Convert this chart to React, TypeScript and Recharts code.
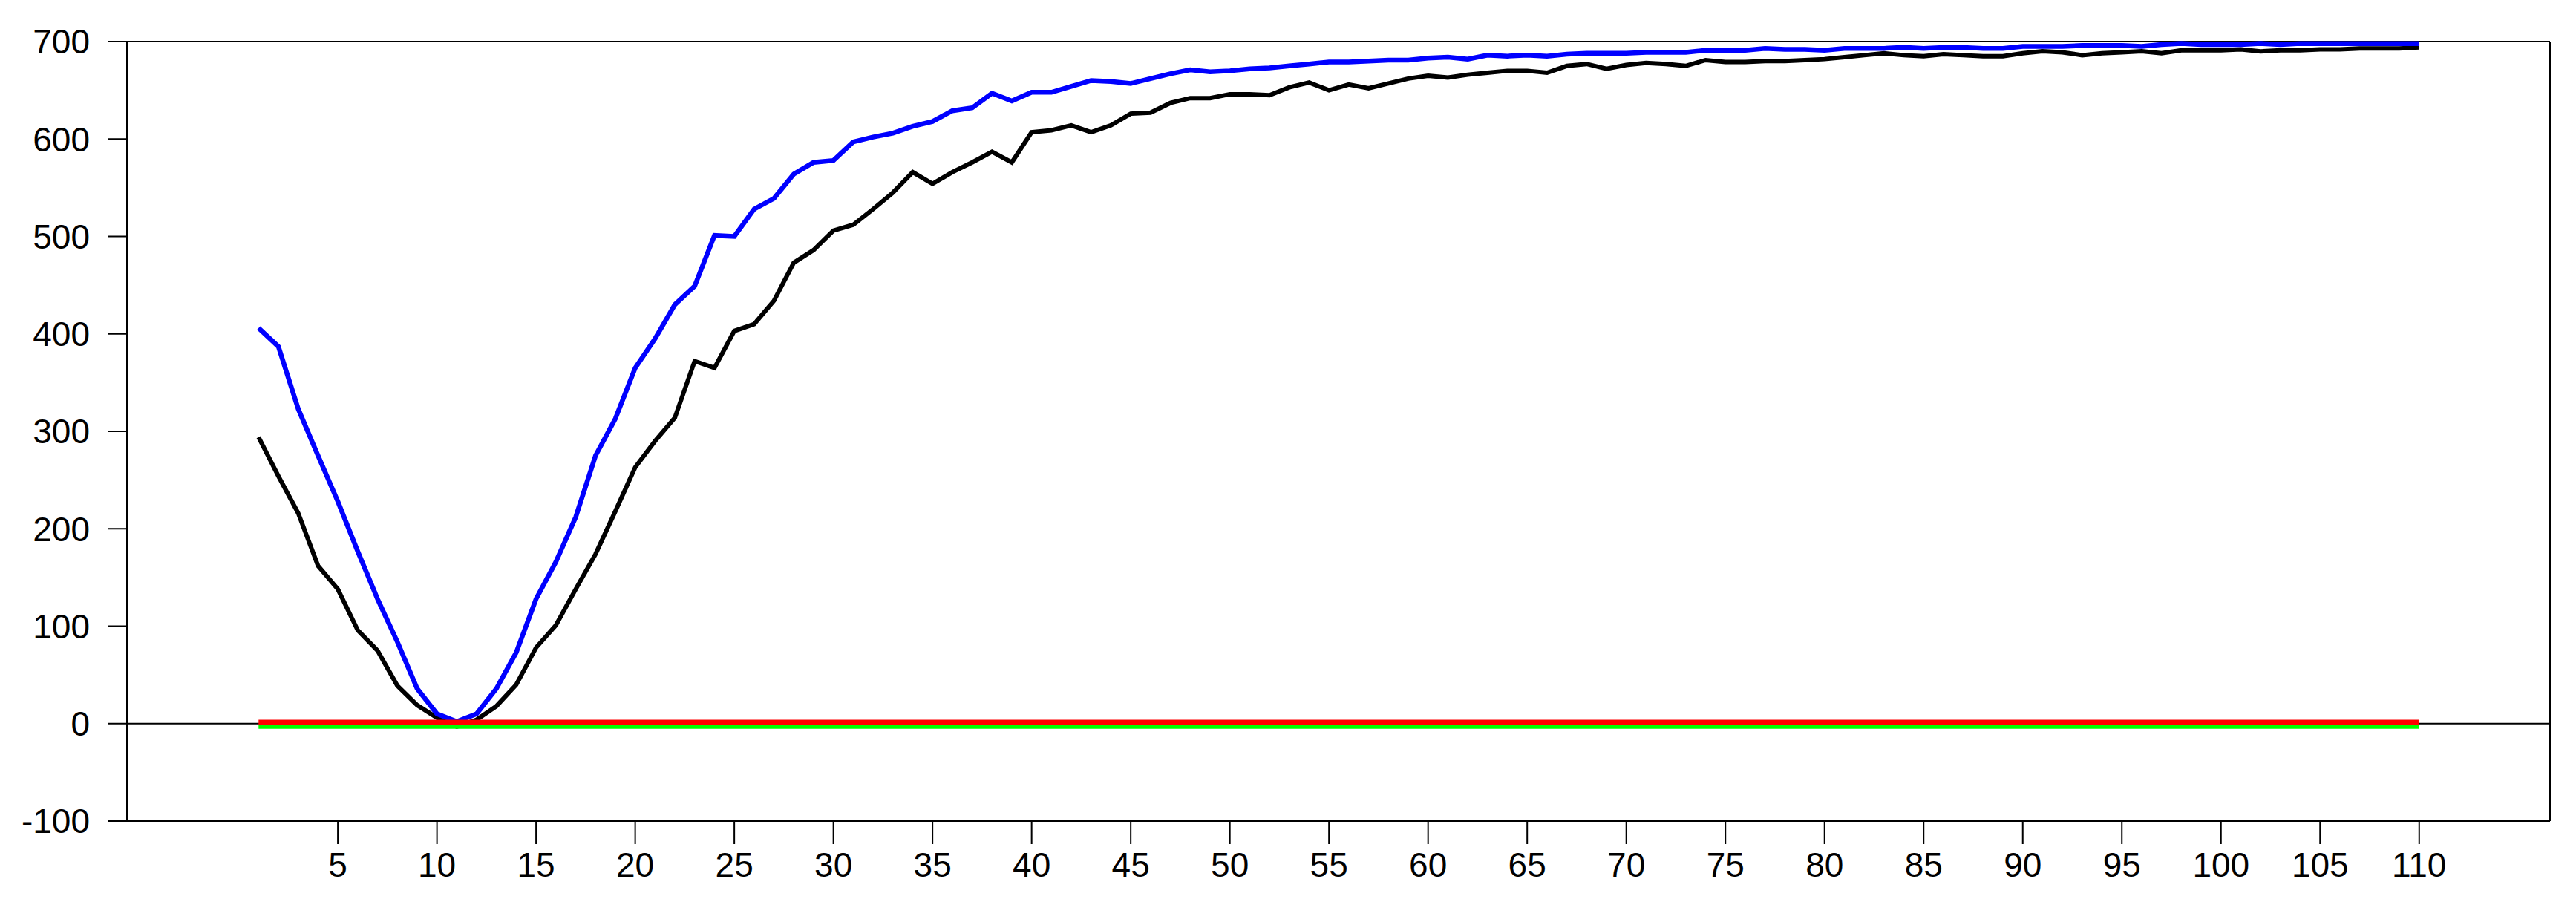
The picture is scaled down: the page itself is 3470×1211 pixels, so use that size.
import React from 'react';
import { LineChart, Line, XAxis, YAxis, ReferenceLine } from 'recharts';

// values, one per period 1..110
const blueSeries = [
  406, 387, 323, 275, 228, 177, 128, 84, 36, 10,
  2, 10, 36, 73, 128, 166, 212, 275, 313, 365,
  395, 430, 449, 501, 500, 528, 539, 564, 576, 578,
  597, 602, 606, 613, 618, 629, 632, 647, 639, 648,
  648, 654, 660, 659, 657, 662, 667, 671, 669, 670,
  672, 673, 675, 677, 679, 679, 680, 681, 681, 683,
  684, 682, 686, 685, 686, 685, 687, 688, 688, 688,
  689, 689, 689, 691, 691, 691, 693, 692, 692, 691,
  693, 693, 693, 694, 693, 694, 694, 693, 693, 695,
  695, 695, 696, 696, 696, 695, 697, 698, 697, 697,
  697, 698, 697, 698, 698, 698, 698, 698, 698, 698
];

const blackSeries = [
  294, 254, 216, 162, 138, 96, 75, 39, 19, 6,
  -3, 4, 18, 40, 78, 101, 138, 174, 218, 263,
  290, 314, 372, 365, 403, 410, 434, 473, 486, 506,
  512, 528, 545, 566, 554, 566, 576, 587, 576, 607,
  609, 614, 607, 614, 626, 627, 637, 642, 642, 646,
  646, 645, 653, 658, 650, 656, 652, 657, 662, 665,
  663, 666, 668, 670, 670, 668, 675, 677, 672, 676,
  678, 677, 675, 681, 679, 679, 680, 680, 681, 682,
  684, 686, 688, 686, 685, 687, 686, 685, 685, 688,
  690, 689, 686, 688, 689, 690, 688, 691, 691, 691,
  692, 690, 691, 691, 692, 692, 693, 693, 693, 694
];

// the two flat lines hugging zero
const redLevel = 1.5;
const greenLevel = -3;

const periods = blueSeries.map((_, i) => i + 1);

const xTicks = [5, 10, 15, 20, 25, 30, 35, 40, 45, 50, 55, 60, 65, 70, 75, 80, 85, 90, 95, 100, 105, 110];
const yTicks = [-100, 0, 100, 200, 300, 400, 500, 600, 700];

const xMin = -5.64;
const xMax = 116.6;

const data = periods.map((p, i) => ({
  period: p,
  blue: blueSeries[i],
  black: blackSeries[i],
  red: redLevel,
  green: greenLevel
}));

const font = { fontFamily: '"Liberation Sans", Arial, sans-serif', fontSize: 46, fill: '#000' };

const App = () => {
  return (
    <div style={{ position: 'absolute', left: 0, top: 0, width: 3470, height: 1211, background: '#fff' }}>
      <LineChart width={3470} height={1211} data={data} margin={{ top: 56, right: 35, bottom: 0, left: 0 }}>
        <XAxis
          dataKey="period"
          type="number"
          domain={[xMin, xMax]}
          ticks={xTicks}
          interval={0}
          height={105}
          tickSize={31}
          tickMargin={11}
          stroke="#000"
          strokeWidth={2}
          tick={font}
        />
        <YAxis
          type="number"
          domain={[-100, 700]}
          ticks={yTicks}
          interval={0}
          width={171}
          tickSize={25}
          tickMargin={25}
          stroke="#000"
          strokeWidth={2}
          tick={font}
        />
        <ReferenceLine y={700} stroke="#000" strokeWidth={2} />
        <ReferenceLine x={xMax} stroke="#000" strokeWidth={2} />
        <ReferenceLine y={0} stroke="#000" strokeWidth={2} />

        <Line dataKey="black" stroke="#000" strokeWidth={6} dot={false} type="linear" isAnimationActive={false} />
        <Line dataKey="blue" stroke="#0000ff" strokeWidth={6.5} dot={false} type="linear" isAnimationActive={false} />
        <Line dataKey="green" stroke="#00ff00" strokeWidth={6} dot={false} type="linear" isAnimationActive={false} />
        <Line dataKey="red" stroke="#ff0000" strokeWidth={6.5} dot={false} type="linear" isAnimationActive={false} />
      </LineChart>
    </div>
  );
};

export default App;
